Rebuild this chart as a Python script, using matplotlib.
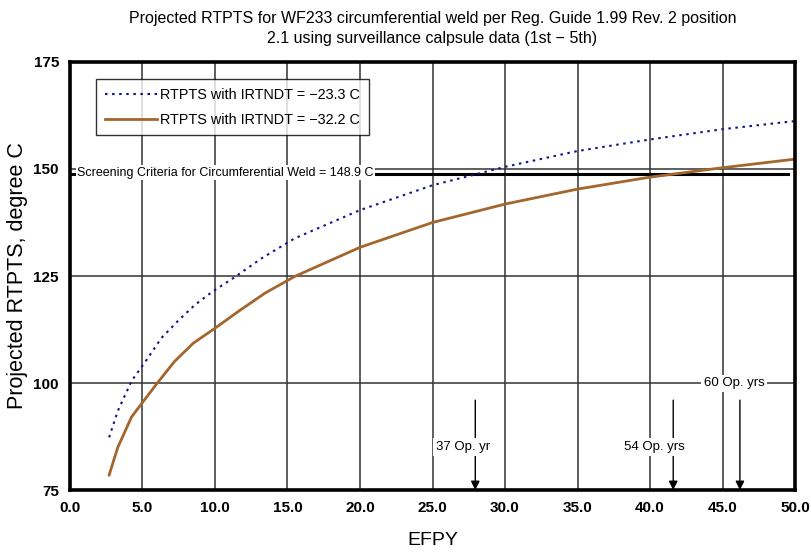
"""plot.py - projected RTPTS vs EFPY for WF233 circumferential weld."""

import matplotlib
matplotlib.use('Agg')
import matplotlib.pyplot as plt

plt.rcParams['font.family'] = ['Liberation Sans', 'DejaVu Sans']

# data
efpy_a = [2.7, 3.3, 4.25, 5.2, 6.3, 7.5, 8.6, 9.8, 11.3, 13.2, 15.5,
          20.0, 25.0, 30.0, 35.0, 40.0, 45.0, 50.0]
rtpts_a = [87.3, 93.5, 100.5, 105.0, 110.5, 114.7, 118.2, 121.3, 124.6,
           129.1, 133.8, 140.4, 146.2, 150.5, 154.2, 156.9, 159.3, 161.2]
efpy_b = [2.7, 3.3, 4.25, 6.0, 7.2, 8.5, 10.0, 11.6, 13.45, 15.5,
          20.0, 25.0, 30.0, 35.0, 40.0, 45.0, 50.0]
rtpts_b = [78.5, 85.0, 92.1, 99.9, 105.0, 109.3, 112.8, 116.7, 121.0, 124.9,
           131.7, 137.5, 141.8, 145.3, 148.1, 150.3, 152.3]
label_a = 'RTPTS with IRTNDT = \u221223.3 C'
label_b = 'RTPTS with IRTNDT = \u221232.2 C'

screening = 148.9
screening_label = 'Screening Criteria for Circumferential Weld = 148.9 C'

op_labels = ['37 Op. yr', '54 Op. yrs', '60 Op. yrs']
op_efpy = [27.95, 41.6, 46.2]
op_text_x = [27.1, 40.3, 45.8]
op_text_y = [85.0, 85.0, 99.9]

xticks = [0, 5, 10, 15, 20, 25, 30, 35, 40, 45, 50]
yticks = [75, 100, 125, 150, 175]

BLUE = '#14148a'
BROWN = '#a3662e'

fig = plt.figure(figsize=(8.11, 5.52), dpi=100)
ax = fig.add_axes([0.0863, 0.1123, 0.894, 0.7754])

ax.set_xlim(0, 50)
ax.set_ylim(75, 175)
ax.set_xticks(xticks)
ax.set_yticks(yticks)
ax.set_xticklabels([f'{v:.1f}' for v in xticks], fontsize=11, fontweight='bold')
ax.set_yticklabels([f'{v}' for v in yticks], fontsize=11, fontweight='bold')
ax.tick_params(length=0, pad=8)
ax.grid(True, color='#333333', lw=1.1, zorder=0)
for s in ax.spines.values():
    s.set_linewidth(2.6)
    s.set_zorder(6)

ax.plot(efpy_a, rtpts_a, ls=(0, (1.2, 2.2)), color=BLUE, lw=1.5,
        label=label_a, zorder=3)
ax.plot(efpy_b, rtpts_b, ls='-', color=BROWN, lw=2.0, label=label_b, zorder=3)

# screening criteria line
ax.plot([0, 49.5], [screening, screening], color='black', lw=2.2, zorder=2)
ax.text(0.5, screening + 0.2, screening_label, fontsize=9, ha='left', va='center',
        bbox=dict(facecolor='white', edgecolor='none', pad=1), zorder=4)

# operating year markers
for lbl, xe, tx, ty in zip(op_labels, op_efpy, op_text_x, op_text_y):
    ax.annotate('', xy=(xe, 75), xytext=(xe, 96.0),
                arrowprops=dict(arrowstyle='-|>', color='black', lw=1.0,
                                mutation_scale=13, shrinkA=0, shrinkB=0),
                zorder=3)
    ax.text(tx, ty, lbl, fontsize=9.5, ha='center', va='center',
            bbox=dict(facecolor='white', edgecolor='none', pad=2), zorder=4)

leg = ax.legend(loc='upper left', bbox_to_anchor=(0.036, 0.96), fontsize=10.4,
                frameon=True, fancybox=False, edgecolor='black', handlelength=3.6,
                borderpad=0.6, labelspacing=0.75, handletextpad=0.25,
                borderaxespad=0)
leg.get_frame().set_linewidth(1.0)

ax.set_xlabel('EFPY', fontsize=14, labelpad=12)
ax.set_ylabel('Projected RTPTS, degree C', fontsize=15.5, labelpad=4)
ax.set_title('Projected RTPTS for WF233 circumferential weld per Reg. Guide 1.99 Rev. 2 position\n'
             '2.1 using surveillance calpsule data (1st \u2212 5th)',
             fontsize=11.5, pad=14, linespacing=1.35)

fig.savefig('out.png', dpi=100)
